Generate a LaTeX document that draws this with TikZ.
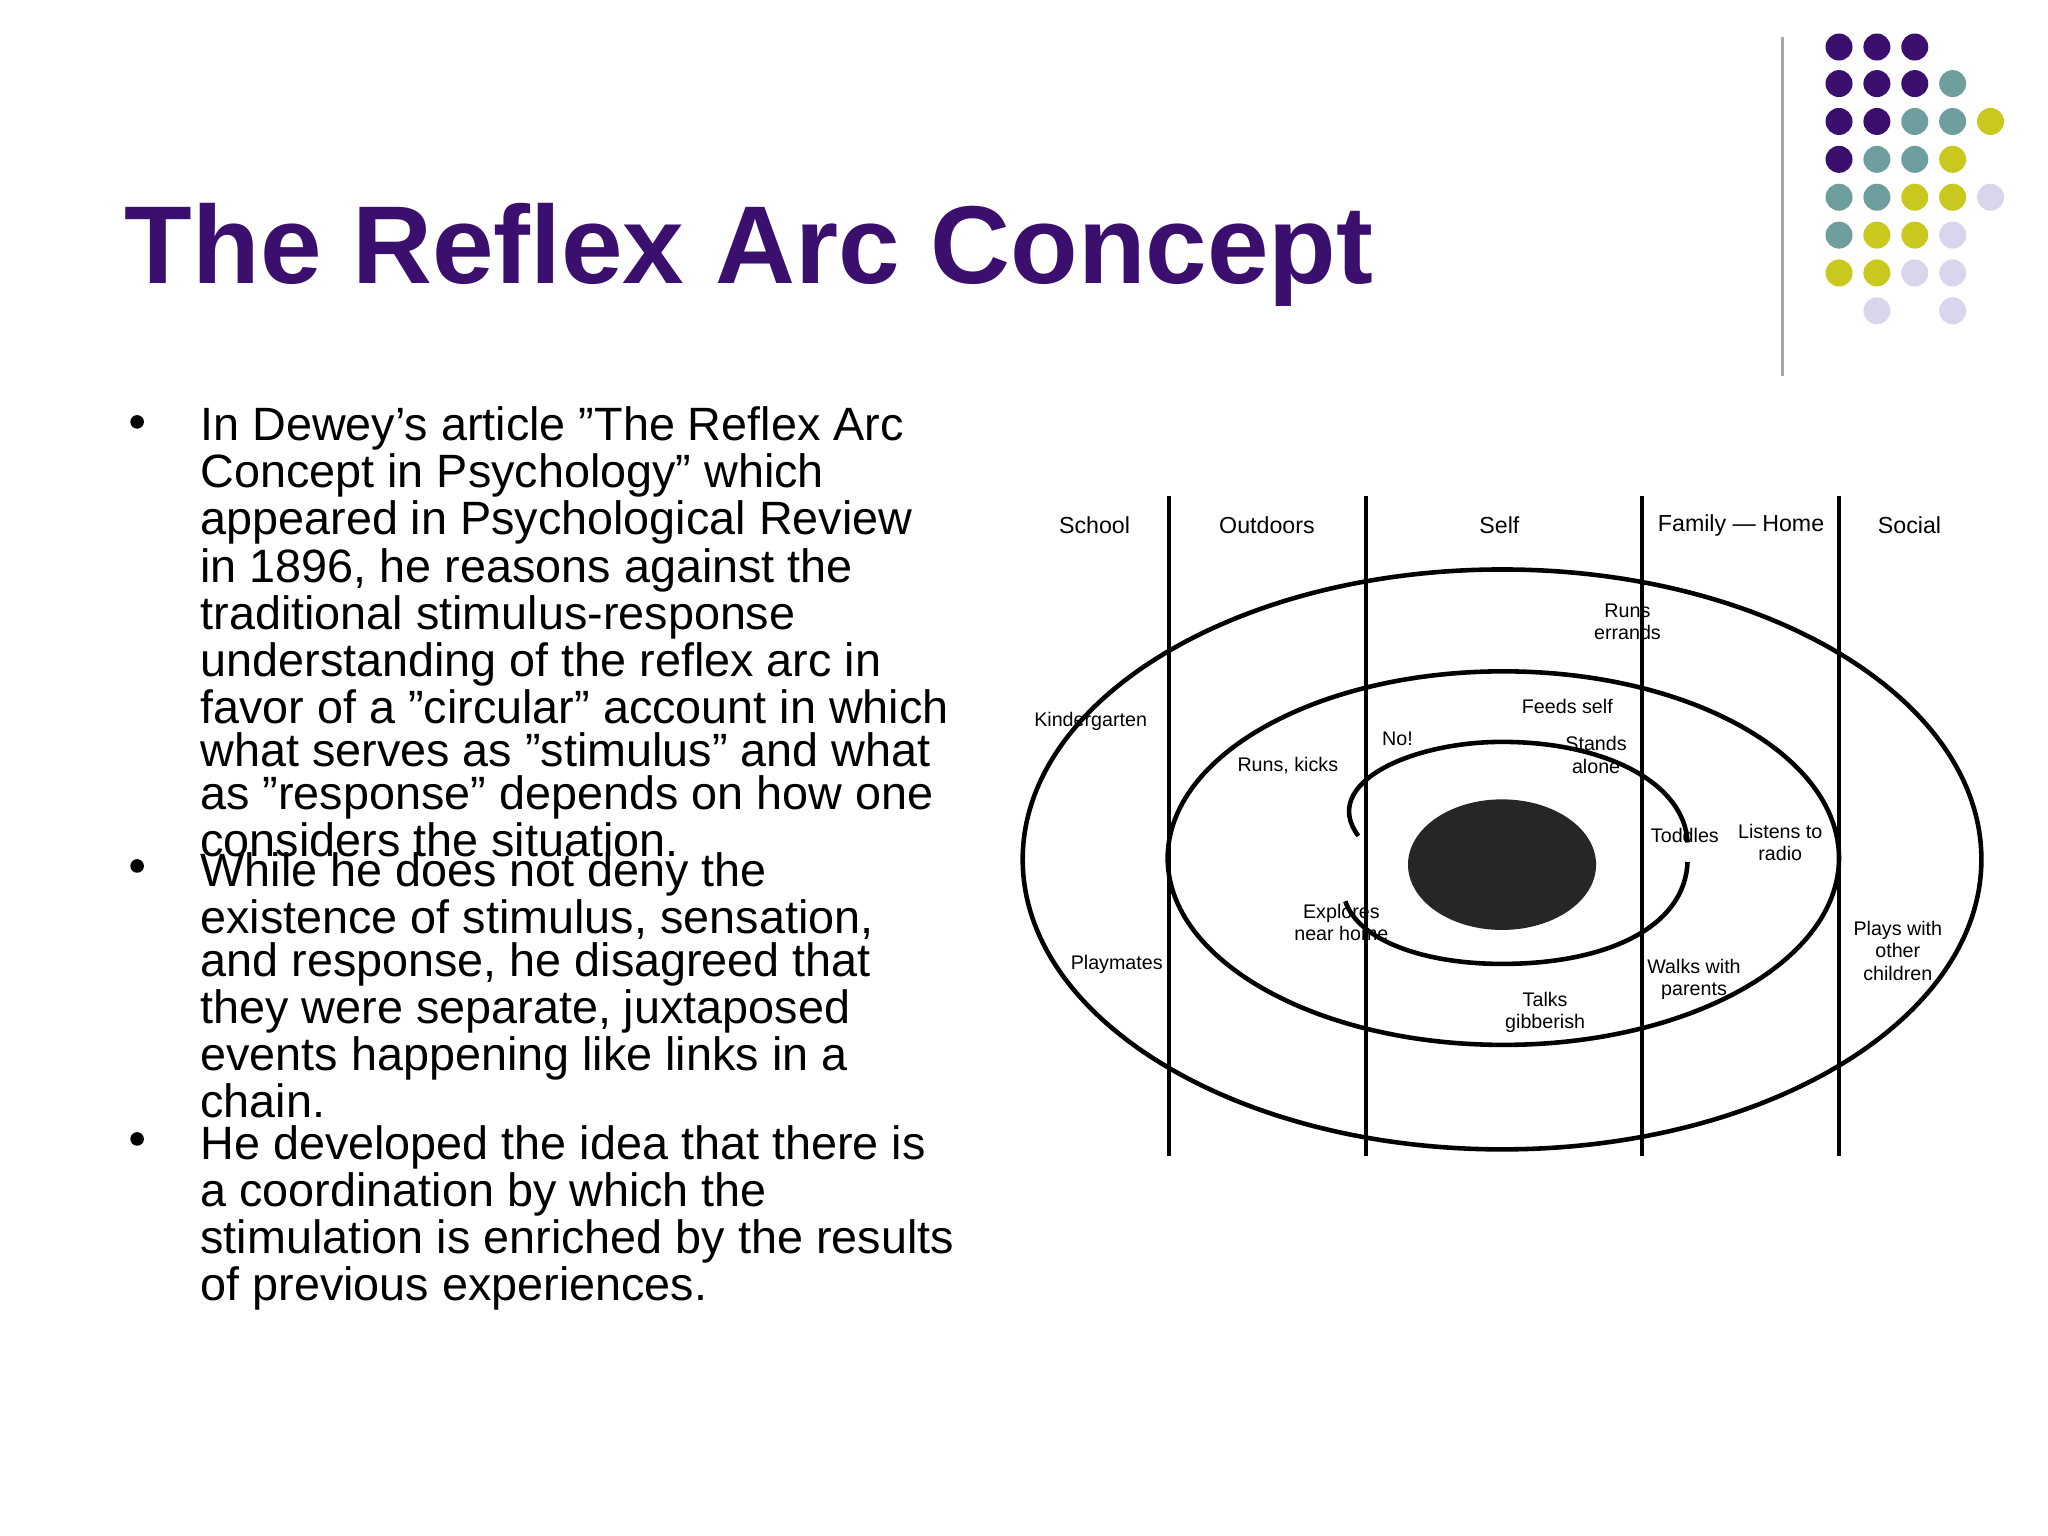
\documentclass[tikz,border=0pt]{standalone}
\usepackage{fontspec}
\setmainfont{Liberation Sans}
\definecolor{ttl}{HTML}{3B0F6E}
\definecolor{dP}{HTML}{3B0F6E}
\definecolor{dT}{HTML}{6E9E9E}
\definecolor{dY}{HTML}{C8C81E}
\definecolor{dL}{HTML}{D8D6EC}
\newcommand{\qq}{\symbol{34}}
\newcommand{\ap}{\symbol{39}}
\begin{document}
\begin{tikzpicture}[x=0.01306cm,y=-0.01306cm,
  dot/.style={circle,inner sep=0pt,minimum size=0.27cm},
  btxt/.style={anchor=north west,align=left,inner sep=0pt,font=\fontsize{13.3}{12.3}\selectfont},
  lab/.style={font=\fontsize{5.6}{6.3}\selectfont,align=center,inner sep=1pt},
  hd/.style={font=\fontsize{6.6}{7}\selectfont,inner sep=1pt},
  ln/.style={line width=1.3pt}]
\useasboundingbox (0,0) rectangle (1568,1176);
\fill[white] (0,0) rectangle (1568,1176);
\node[anchor=base west,inner sep=0pt,text=ttl,font=\fontsize{31.5}{31.5}\selectfont\bfseries] (title) at (95,217) {The Reflex Arc Concept};
\draw[gray!70,line width=0.8pt] (1365,28) coordinate (v1) -- (1365,288) coordinate (v2);
% dots
\foreach \c/\x/\y in {dP/1408/36,dP/1437/36,dP/1466/36,
 dP/1408/64,dP/1437/64,dP/1466/64,dT/1495/64,
 dP/1408/93,dP/1437/93,dT/1466/93,dT/1495/93,dY/1524/93,
 dP/1408/122,dT/1437/122,dT/1466/122,dY/1495/122,
 dT/1408/151,dT/1437/151,dY/1466/151,dY/1495/151,dL/1524/151,
 dT/1408/180,dY/1437/180,dY/1466/180,dL/1495/180,
 dY/1408/209,dY/1437/209,dL/1466/209,dL/1495/209,
 dL/1437/238,dL/1495/238}
 \node[dot,fill=\c] at (\x,\y) {};
% bullets
\foreach \y in {323,663,872} \fill (105,\y) circle (5.2);
\node[btxt] (b1) at (153,311) {In Dewey\ap s article \qq The Reflex Arc\\Concept in Psychology\qq\ which\\appeared in Psychological Review\\in 1896, he reasons against the\\traditional stimulus-response\\understanding of the reflex arc in\\favor of a \qq circular\qq\ account in which\\what serves as \qq stimulus\qq\ and what\\as \qq response\qq\ depends on how one\\considers the situation.};
\node[btxt] (b2) at (153,652) {While he does not deny the\\existence of stimulus, sensation,\\and response, he disagreed that\\they were separate, juxtaposed\\events happening like links in a\\chain.};
\node[btxt] (b3) at (153,861) {He developed the idea that there is\\a coordination by which the\\stimulation is enriched by the results\\of previous experiences.};
% diagram
\foreach \x in {895,1046,1257,1408} \draw[ln] (\x,380) -- (\x,885);
\draw[ln] (1150,658) ellipse (367 and 222);
\draw[ln] (1151,657) ellipse (257 and 143);
\draw[ln] (1040,640) .. controls (1010,600) and (1080,568) .. (1150,568) .. controls (1230,568) and (1290,600) .. (1292,645);
\draw[ln] (1292,660) .. controls (1290,710) and (1230,738) .. (1150,738) .. controls (1090,738) and (1040,720) .. (1030,690);
\fill[black!85] (1150,662) ellipse (72 and 50);
\node[hd] at (838,402) {School};
\node[hd] at (970,402) {Outdoors};
\node[hd] at (1148,402) {Self};
\node[hd] at (1333,402) {Family --- Home};
\node[hd] at (1462,402) {Social};
\node[lab] at (835,552) {Kindergarten};
\node[lab] at (855,738) {Playmates};
\node[lab] at (986,586) {Runs, kicks};
\node[lab] at (1070,566) {No!};
\node[lab] at (1200,541) {Feeds self};
\node[lab] at (1222,578) {Stands\\alone};
\node[lab] at (1246,476) {Runs\\errands};
\node[lab] at (1290,640) {Toddles};
\node[lab] at (1363,645) {Listens to\\radio};
\node[lab] at (1027,706) {Explores\\near home};
\node[lab] at (1183,775) {Talks\\gibberish};
\node[lab] at (1297,750) {Walks with\\parents};
\node[lab] at (1453,728) {Plays with\\other\\children};
\end{tikzpicture}
\end{document}
